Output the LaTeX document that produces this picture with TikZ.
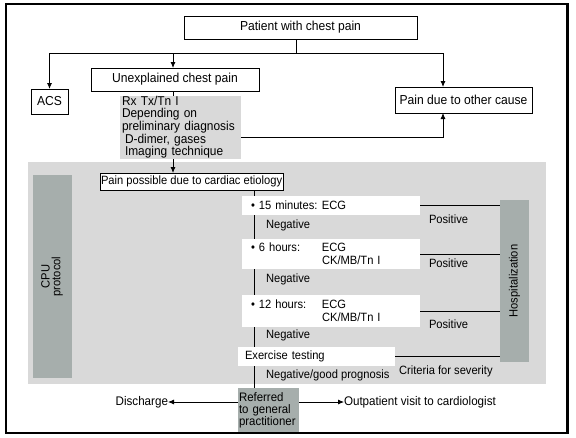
\documentclass[tikz,border=0pt]{standalone}
\usepackage{fontspec}
\setmainfont{Liberation Sans}[FakeStretch=0.93]
\usetikzlibrary{arrows.meta}

\definecolor{panelgray}{RGB}{217,217,217}
\definecolor{bargray}{RGB}{166,174,172}

\newcommand{\timecol}[1]{\makebox[71pt][l]{#1}}

\begin{document}
\begin{tikzpicture}[
  x=1pt, y=-1pt,
  font=\fontsize{12}{12.7}\selectfont,
  every node/.style={inner sep=0pt, outer sep=0pt},
  big/.style={font=\fontsize{13}{11.5}\selectfont},
  frame/.style={draw, line width=0.8pt, fill=white, anchor=north west, big},
  tbox/.style={fill=white, anchor=north west, align=left, inner xsep=9pt},
  bar/.style={fill=bargray, anchor=north west},
  lbl/.style={anchor=base west},
  line/.style={line width=0.8pt},
  arr/.style={line width=0.8pt, -{Latex[length=6pt,width=5pt]}}
]
\useasboundingbox (0,0) rectangle (576,437);
\fill[panelgray] (28,162) rectangle (546,384);

\coordinate (split) at (296,53);
\coordinate (axis) at (173,0);
\coordinate (oaxis) at (443,0);
\coordinate (spine) at (254,0);

% top part
\node[frame, minimum width=233, minimum height=23] (patient) at (184,16) {Patient with chest pain};
\node[frame, minimum width=168, minimum height=23] (unexpl) at (91,68) {Unexplained chest pain};
\node[frame, minimum width=37, minimum height=25] (acs) at (31,89) {ACS};
\node[frame, minimum width=137, minimum height=26] (other) at (395,87) {Pain due to other cause};
\node[fill=panelgray, anchor=north west, minimum height=63, text width=117, inner xsep=2pt, align=left,
  font=\fontsize{12.8}{11.5}\selectfont] (rx) at (120,96)
  {Rx Tx/Tn I\\Depending on\\preliminary diagnosis\\\hspace*{3pt}D-dimer, gases\\\hspace*{3pt}Imaging technique};

% CPU protocol
\node[frame, font=\fontsize{12}{12}\selectfont, inner xsep=1pt, minimum height=17] (ppc) at (100,173) {Pain possible due to cardiac etiology};
\node[bar, minimum width=39, minimum height=203] (cpu) at (33,175)
  {\rotatebox{90}{\begin{tabular}{@{}c@{}}CPU\\[-2pt]protocol\end{tabular}}};
\node[bar, minimum width=29, minimum height=162] (hosp) at (500,200) {\rotatebox{90}{Hospitalization}};

\node[tbox, minimum height=19, text width=160] (m15) at (242,196) {\timecol{• 15 minutes:}ECG};
\node[tbox, minimum height=30, text width=160] (h6) at (242,239) {\timecol{• 6 hours:}ECG\\\timecol{}CK/MB/Tn I};
\node[tbox, minimum height=32, text width=160] (h12) at (242,295) {\timecol{• 12 hours:}ECG\\\timecol{}CK/MB/Tn I};
\node[tbox, minimum height=19, text width=143, inner xsep=7pt] (extest) at (238,347) {Exercise testing};

\node[lbl] (neg1) at (266,228) {Negative};
\node[lbl] (neg2) at (266,282) {Negative};
\node[lbl] (neg3) at (266,338) {Negative};
\node[lbl] (neggood) at (266,378) {Negative/good prognosis};
\node[lbl] (pos1) at (429,223) {Positive};
\node[lbl] (pos2) at (429,267) {Positive};
\node[lbl] (pos3) at (429,328) {Positive};
\node[lbl] (crit) at (399,374) {Criteria for severity};

% exit
\node[bar, minimum width=61, minimum height=45, text width=59, inner xsep=1pt, align=left,
  font=\fontsize{12.3}{12}\selectfont] (referred) at (238,388) {Referred\\to general\\practitioner};
\node[anchor=east, font=\fontsize{12.5}{12}\selectfont] (discharge) at (168,402) {Discharge};
\node[anchor=west, font=\fontsize{12.5}{12}\selectfont] (outpt) at (344,402) {Outpatient visit to cardiologist};

% connectors
\draw[line] (patient.south -| split) -- (split);
\draw[arr] (split) -| (acs.north);
\draw[arr] (split) -| (other.north -| oaxis);
\draw[arr] (split -| axis) -- (unexpl.north -| axis);
\draw[line] (unexpl.south -| axis) -- (rx.north -| axis);
\draw[arr] (rx.south -| axis) -- (ppc.north -| axis);
\draw[arr] ([yshift=-9.5pt]rx.east) -| (other.south -| oaxis);

\foreach \a/\b in {ppc/m15, m15/h6, h6/h12, h12/extest, extest/referred}
  \draw[line] (\a.south -| spine) -- (\b.north -| spine);
\foreach \n in {m15, h6, h12, extest}
  \draw[line] (\n.east) -- (\n.east -| hosp.west);

\draw[arr] (referred.west |- discharge.east) -- (discharge.east);
\draw[arr] (referred.east |- outpt.west) -- (outpt.west);

\draw[line width=2.2pt] (6,4) rectangle (567.5,433);
\end{tikzpicture}
\end{document}
